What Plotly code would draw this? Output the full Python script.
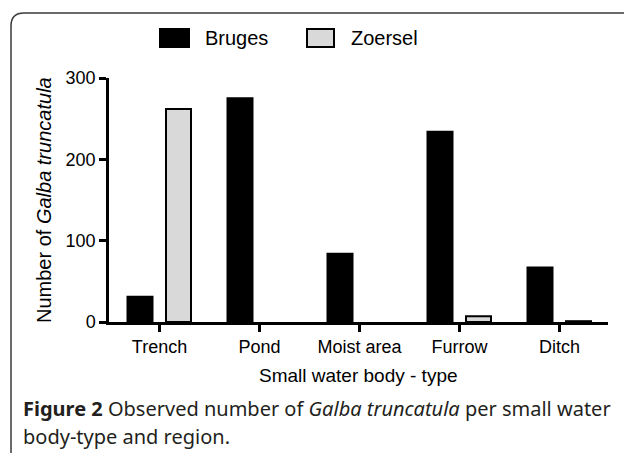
import plotly.graph_objects as go

categories = ["Trench", "Pond", "Moist area", "Furrow", "Ditch"]
bruges = [31, 275, 84, 234, 67]
zoersel = [262, 0, 0, 7, 1]
y_ticks = [0, 100, 200, 300]
series_names = ["Bruges", "Zoersel"]

W, H = 624, 453
L, R, T, B = 109, 16, 78, 131
pw = W - L - R
ph = H - T - B


def px(x):
    return (x - L) / pw


def py(y):
    return (H - B - y) / ph


FONT = "Liberation Sans, Arial, sans-serif"
CAP_FONT = "Noto Sans, Open Sans, sans-serif"

fig = go.Figure()
fig.add_trace(go.Bar(
    x=categories, y=bruges, name=series_names[0],
    width=0.25, offset=-0.32,
    marker=dict(color="black",
                line=dict(color="black", width=[2 if v > 0 else 0 for v in bruges])),
))
fig.add_trace(go.Bar(
    x=categories, y=zoersel, name=series_names[1],
    width=0.25, offset=0.065,
    marker=dict(color="#d9d9d9",
                line=dict(color="black", width=[2 if v > 0 else 0 for v in zoersel])),
))

shapes = [
    dict(type="path", xref="paper", yref="paper",
         path=f"M {px(11)},{py(470)} L {px(11)},{py(26)} Q {px(11)},{py(13)} {px(24)},{py(13)} L {px(650)},{py(13)}",
         line=dict(color="#3a3a3a", width=1.5)),
    dict(type="rect", xref="paper", yref="paper",
         x0=px(160), x1=px(189), y0=py(29), y1=py(47),
         fillcolor="black", line=dict(color="black", width=2)),
    dict(type="rect", xref="paper", yref="paper",
         x0=px(307), x1=px(334), y0=py(29), y1=py(47),
         fillcolor="#d9d9d9", line=dict(color="black", width=2)),
]

annotations = [
    dict(text=series_names[0], x=px(203), y=py(38), xref="paper", yref="paper",
         xanchor="left", yanchor="middle", showarrow=False,
         font=dict(family=FONT, size=20, color="black")),
    dict(text=series_names[1], x=px(349), y=py(38), xref="paper", yref="paper",
         xanchor="left", yanchor="middle", showarrow=False,
         font=dict(family=FONT, size=20, color="black")),
    dict(text="Number of <i>Galba truncatula</i>", x=px(44), y=py(200),
         xref="paper", yref="paper", textangle=-90,
         xanchor="center", yanchor="middle", showarrow=False,
         font=dict(family=FONT, size=20, color="black")),
    dict(text="Small water body - type", x=px(358), y=py(375),
         xref="paper", yref="paper", xanchor="center", yanchor="middle",
         showarrow=False, font=dict(family=FONT, size=19, color="black")),
    dict(text="<b>Figure 2</b> Observed number of <i>Galba truncatula</i> per small water",
         x=px(21), y=py(408), xref="paper", yref="paper",
         xanchor="left", yanchor="middle", showarrow=False,
         font=dict(family=CAP_FONT, size=20, color="#231f20")),
    dict(text="body-type and region.",
         x=px(21), y=py(436), xref="paper", yref="paper",
         xanchor="left", yanchor="middle", showarrow=False,
         font=dict(family=CAP_FONT, size=20, color="#231f20")),
]

fig.update_layout(
    width=W, height=H,
    margin=dict(l=L, r=R, t=T, b=B, pad=0),
    paper_bgcolor="white", plot_bgcolor="white",
    showlegend=False,
    barmode="group",
    shapes=shapes,
    annotations=annotations,
    xaxis=dict(
        type="category", range=[-0.505, 4.485],
        showline=True, linecolor="black", linewidth=2.5,
        ticks="outside", ticklen=7, tickwidth=2.5, tickcolor="black",
        showgrid=False, zeroline=False,
        tickfont=dict(family=FONT, size=18, color="black"),
    ),
    yaxis=dict(
        range=[0, 300], tickvals=y_ticks,
        showline=True, linecolor="black", linewidth=2.5,
        ticks="outside", ticklen=7, tickwidth=2.5, tickcolor="black",
        showgrid=False, zeroline=False,
        tickfont=dict(family=FONT, size=18, color="black"),
    ),
)

fig.write_html(
    "out.html",
    config={"displayModeBar": False},
    post_script="document.body.style.margin='0';document.body.style.padding='0';document.body.style.overflow='hidden';",
)
